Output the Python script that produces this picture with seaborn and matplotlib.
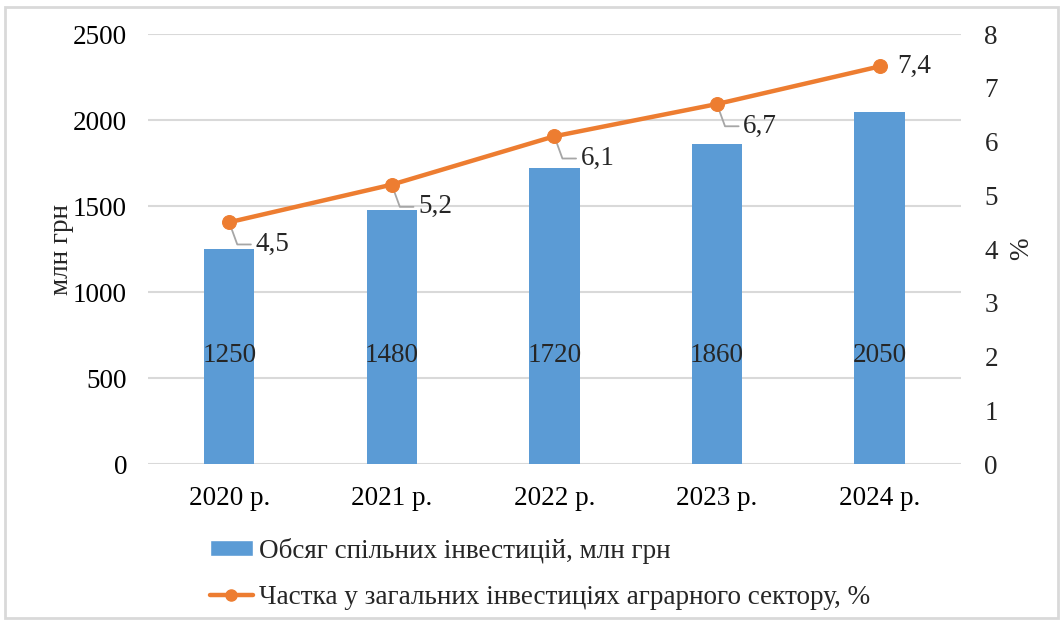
import matplotlib
matplotlib.use("Agg")
import matplotlib.pyplot as plt
import numpy as np
import pandas as pd
import seaborn as sns
from matplotlib.patches import Rectangle

years = ["2020 р.", "2021 р.", "2022 р.", "2023 р.", "2024 р."]
volume = [1250, 1480, 1720, 1860, 2050]
share = [4.5, 5.2, 6.1, 6.7, 7.4]
share_labels = ["4,5", "5,2", "6,1", "6,7", "7,4"]

bar_label = "Обсяг спільних інвестицій, млн грн"
line_label = "Частка у загальних інвестиціях аграрного сектору, %"

BLUE = "#5B9BD5"
ORANGE = "#ED7D31"
GRID = "#D9D9D9"
FS = 19.5

sns.set_theme(style="white")
plt.rcParams["font.family"] = ["Liberation Serif", "DejaVu Serif"]
plt.rcParams["font.size"] = FS

df = pd.DataFrame({"year": years, "volume": volume, "share": share})

fig = plt.figure(figsize=(10.64, 6.22), dpi=100)
ax = fig.add_axes([0.139, 0.254, 0.764, 0.691])

sns.barplot(data=df, x="year", y="volume", color=BLUE, saturation=1,
            width=0.31, linewidth=0, ax=ax, zorder=2)
ax.set_ylim(0, 2500)
ax.set_yticks(np.arange(0, 2501, 500))
ax.yaxis.grid(True, color=GRID, linewidth=1.5, zorder=0)
ax.set_axisbelow(True)
for s in ax.spines.values():
    s.set_visible(False)
ax.tick_params(axis="both", length=0, labelsize=FS, colors="#000000")
ax.tick_params(axis="x", pad=16)
ax.tick_params(axis="y", pad=15)
ax.set_xlabel("")
ax.set_ylabel("млн грн", fontsize=FS, labelpad=-1)
ax.set_xlim(-0.5, len(years) - 0.5)

# value labels sit at roughly the same height inside each bar
for i, v in enumerate(volume):
    ax.text(i, 630, str(v), ha="center", va="center", fontsize=FS, zorder=3)

ax2 = ax.twinx()
sns.lineplot(x=np.arange(len(years)), y=share, color=ORANGE, linewidth=3.2,
             marker="o", markersize=10, markeredgecolor=ORANGE, ax=ax2, zorder=4)
ax2.set_ylim(0, 8)
ax2.set_yticks(np.arange(0, 9, 1))
for s in ax2.spines.values():
    s.set_visible(False)
ax2.tick_params(axis="y", length=0, labelsize=FS, pad=17)
ax2.set_ylabel("%", fontsize=FS, labelpad=8)
ax2.set_xlim(-0.5, len(years) - 0.5)

for i, (v, lab) in enumerate(zip(share, share_labels)):
    if i < len(share) - 1:
        ax2.annotate(lab, xy=(i, v), xytext=(19, -16), textcoords="offset points",
                     ha="left", va="center", fontsize=FS,
                     arrowprops=dict(arrowstyle="-", color="#A6A6A6", lw=1.3,
                                     shrinkA=1, shrinkB=5,
                                     connectionstyle="angle,angleA=0,angleB=110,rad=0"))
    else:
        ax2.annotate(lab, xy=(i, v), xytext=(13, 0), textcoords="offset points",
                     ha="left", va="center", fontsize=FS)

bar_handle = Rectangle((0, 0), 1, 1, facecolor=BLUE)
line_handle = plt.Line2D([], [], color=ORANGE, linewidth=3.2, marker="o",
                         markersize=8)
fig.legend([bar_handle, line_handle], [bar_label, line_label],
           loc="upper left", bbox_to_anchor=(0.187, 0.153), frameon=False,
           fontsize=FS, handlelength=1.6, handleheight=0.55, handletextpad=0.2,
           labelspacing=0.78, borderaxespad=0)

fig.patches.append(Rectangle((0.005, 0.006), 0.989, 0.982, transform=fig.transFigure,
                             fill=False, edgecolor=GRID, linewidth=2))

fig.savefig("out.png", dpi=100)
